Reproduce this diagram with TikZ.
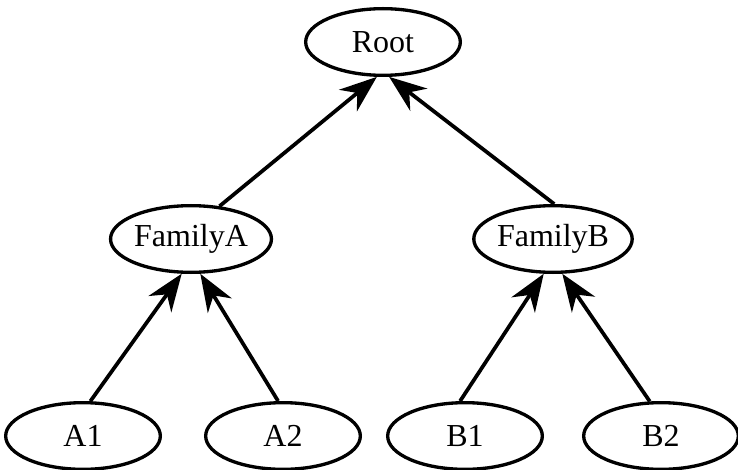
\documentclass[tikz,border=0pt]{standalone}
\usepackage{fontspec}
\setmainfont{Liberation Serif}
\usetikzlibrary{shapes.geometric,arrows.meta}
\tikzset{
  leaf/.style={draw,ellipse,line width=2.5pt,minimum width=116pt,minimum height=50pt,inner sep=0pt,font=\fontsize{24}{27}\selectfont},
  up/.style={line width=2.8pt,-{Stealth[length=28pt,width=21pt,inset=9pt]}}
}
\begin{document}
\begin{tikzpicture}[x=0.75pt,y=-0.75pt]
\useasboundingbox (0,0) rectangle (738,470);
\node[leaf] (root) at (383,42){Root};
\node[leaf] (fama) at (191,239){FamilyA};
\node[leaf] (famb) at (553,239){FamilyB};
\node[leaf] (a1) at (83,436){A1};
\node[leaf] (a2) at (283,436){A2};
\node[leaf] (b1) at (465,436){B1};
\node[leaf] (b2) at (661,436){B2};
\draw[up](fama.49)--(root.-100);
\draw[up](famb.88)--(root.-80);
\draw[up](a1.78)--(fama.-105);
\draw[up](a2.98)--(fama.-75);
\draw[up](b1.98)--(famb.-105);
\draw[up](b2.108)--(famb.-75);
\end{tikzpicture}
\end{document}
